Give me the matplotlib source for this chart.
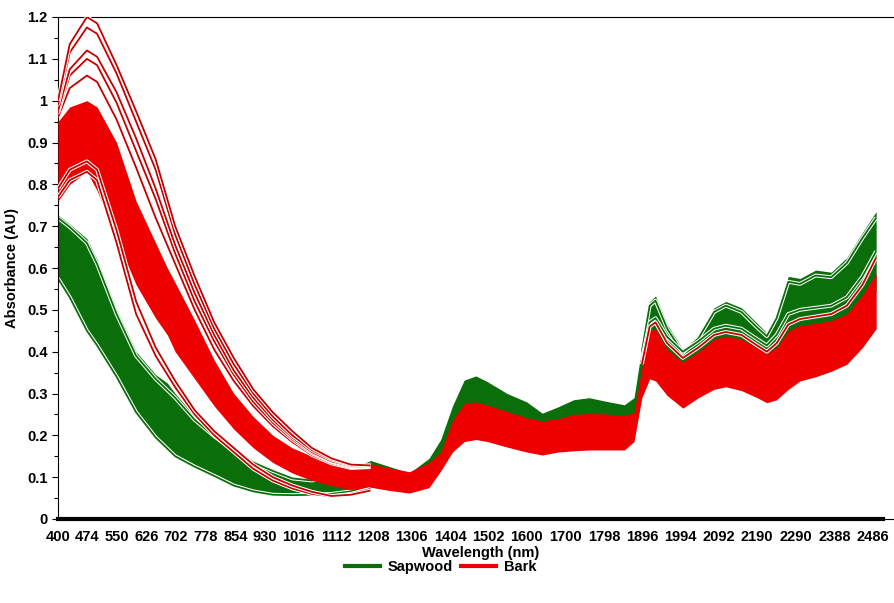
import numpy as np
import matplotlib
matplotlib.use("Agg")
import matplotlib.pyplot as plt
import matplotlib.patheffects as pe
from matplotlib.lines import Line2D

plt.rcParams['font.family'] = ['Liberation Sans', 'DejaVu Sans']
plt.rcParams['font.weight'] = 'bold'

# wavelength grid (nm) for the band envelopes
wl = [400, 430, 474, 500, 550, 600, 650, 680, 700, 750,
      800, 850, 900, 950, 1000, 1050, 1100, 1150, 1200, 1250,
      1300, 1350, 1380, 1410, 1440, 1470, 1500, 1550, 1600, 1640,
      1680, 1720, 1760, 1800, 1850, 1875, 1895, 1915, 1930, 1960,
      2000, 2040, 2080, 2110, 2150, 2190, 2215, 2240, 2270, 2300,
      2340, 2380, 2420, 2460, 2495]

# Sapwood spectra: upper / lower edge of the bundle
sap_hi = [0.727, 0.705, 0.67, 0.62, 0.50, 0.40, 0.345, 0.325, 0.30, 0.245,
          0.205, 0.17, 0.14, 0.12, 0.10, 0.095, 0.105, 0.125, 0.14, 0.125,
          0.11, 0.145, 0.19, 0.27, 0.332, 0.342, 0.328, 0.30, 0.28, 0.253,
          0.268, 0.285, 0.29, 0.282, 0.273, 0.29, 0.41, 0.52, 0.533, 0.465,
          0.405, 0.44, 0.505, 0.52, 0.505, 0.468, 0.445, 0.49, 0.58, 0.575,
          0.595, 0.59, 0.625, 0.685, 0.735]
sap_lo = [0.579, 0.535, 0.455, 0.42, 0.345, 0.26, 0.20, 0.172, 0.155, 0.13,
          0.108, 0.085, 0.07, 0.06, 0.06, 0.062, 0.064, 0.07, 0.085, 0.08,
          0.075, 0.09, 0.12, 0.18, 0.22, 0.225, 0.22, 0.205, 0.19, 0.18,
          0.185, 0.195, 0.2, 0.2, 0.195, 0.21, 0.31, 0.39, 0.395, 0.35,
          0.31, 0.33, 0.365, 0.375, 0.365, 0.34, 0.325, 0.35, 0.40, 0.41,
          0.42, 0.43, 0.455, 0.50, 0.545]

# Bark spectra: upper / lower edge of the bundle
bark_hi = [0.95, 0.985, 1.0, 0.985, 0.90, 0.76, 0.66, 0.60, 0.565, 0.475,
           0.38, 0.30, 0.245, 0.20, 0.17, 0.15, 0.135, 0.127, 0.132, 0.122,
           0.113, 0.135, 0.16, 0.235, 0.275, 0.28, 0.272, 0.257, 0.242, 0.234,
           0.24, 0.25, 0.252, 0.251, 0.247, 0.255, 0.36, 0.45, 0.455, 0.405,
           0.375, 0.40, 0.43, 0.437, 0.43, 0.41, 0.397, 0.41, 0.45, 0.462,
           0.468, 0.474, 0.49, 0.535, 0.587]
bark_lo = [0.76, 0.80, 0.83, 0.785, 0.67, 0.56, 0.48, 0.44, 0.40, 0.335,
           0.27, 0.215, 0.17, 0.135, 0.11, 0.092, 0.08, 0.07, 0.076, 0.068,
           0.062, 0.075, 0.115, 0.16, 0.185, 0.19, 0.185, 0.172, 0.16, 0.153,
           0.16, 0.163, 0.165, 0.165, 0.165, 0.185, 0.29, 0.335, 0.33, 0.295,
           0.265, 0.29, 0.31, 0.316, 0.307, 0.29, 0.278, 0.285, 0.31, 0.33,
           0.34, 0.353, 0.37, 0.41, 0.455]

# single spectra standing apart from the bundles (visible range)
wl_vis = [400, 430, 474, 500, 550, 600, 650, 700, 750, 800,
          850, 900, 950, 1000, 1050, 1100, 1150, 1200]
bark_r1 = [1.0, 1.135, 1.2, 1.185, 1.085, 0.975, 0.86, 0.70, 0.58, 0.47,
           0.385, 0.31, 0.255, 0.21, 0.17, 0.145, 0.13, 0.128]
bark_r2 = [0.99, 1.115, 1.175, 1.16, 1.065, 0.95, 0.835, 0.68, 0.56, 0.455,
           0.37, 0.30, 0.245, 0.20, 0.165, 0.142, 0.128, 0.127]
bark_r3 = [0.975, 1.075, 1.12, 1.105, 1.02, 0.91, 0.79, 0.655, 0.54, 0.44,
           0.355, 0.29, 0.237, 0.195, 0.16, 0.138, 0.126, 0.126]
bark_r4 = [0.97, 1.06, 1.10, 1.085, 0.995, 0.88, 0.765, 0.635, 0.52, 0.425,
           0.345, 0.28, 0.23, 0.19, 0.157, 0.136, 0.124, 0.125]
bark_r5 = [0.96, 1.03, 1.06, 1.045, 0.955, 0.84, 0.72, 0.61, 0.50, 0.405,
           0.33, 0.27, 0.222, 0.184, 0.153, 0.133, 0.122, 0.124]
bark_l1 = [0.79, 0.835, 0.855, 0.835, 0.69, 0.52, 0.41, 0.33, 0.26, 0.21,
           0.17, 0.13, 0.10, 0.08, 0.065, 0.055, 0.058, 0.068]
bark_l2 = [0.77, 0.81, 0.83, 0.81, 0.66, 0.49, 0.39, 0.315, 0.25, 0.20,
           0.16, 0.12, 0.092, 0.073, 0.06, 0.054, 0.06, 0.072]
sap_g1 = [0.575, 0.53, 0.45, 0.415, 0.34, 0.255, 0.195, 0.15, 0.125, 0.103,
          0.08, 0.066, 0.058, 0.057, 0.058, 0.06, 0.066, 0.08]
sap_g2 = [0.72, 0.698, 0.66, 0.61, 0.49, 0.39, 0.335, 0.29, 0.237, 0.198,
          0.163, 0.135, 0.115, 0.097, 0.092, 0.1, 0.12, 0.135]

# single spectra standing apart (NIR)
wl_nir = [1895, 1915, 1930, 1960, 2000, 2040, 2080, 2110, 2150,
          2190, 2215, 2240, 2270, 2300, 2340, 2380, 2420, 2460, 2495]
bark_rn = [0.37, 0.46, 0.47, 0.42, 0.385, 0.41, 0.44, 0.447, 0.44,
           0.415, 0.40, 0.42, 0.465, 0.478, 0.484, 0.49, 0.51, 0.56, 0.625]
sap_gn = [0.38, 0.47, 0.48, 0.435, 0.40, 0.425, 0.455, 0.462, 0.455,
          0.43, 0.415, 0.44, 0.49, 0.50, 0.505, 0.51, 0.53, 0.58, 0.64]
sap_gt = [0.40, 0.51, 0.522, 0.455, 0.397, 0.432, 0.495, 0.51, 0.495,
          0.458, 0.437, 0.48, 0.567, 0.562, 0.582, 0.578, 0.612, 0.672, 0.72]

xticks = [400, 474, 550, 626, 702, 778, 854, 930, 1016, 1112, 1208, 1306,
          1404, 1502, 1600, 1700, 1798, 1896, 1994, 2092, 2190, 2290, 2388, 2486]

green = '#0a6e0a'
red = '#ee0000'
dred = '#c40000'

fig = plt.figure(figsize=(8.94, 6.03), dpi=100)
ax = fig.add_axes([58/894, 84/603, 1 - 58/894 + 0.01, 502/603])

stroke = [pe.Stroke(linewidth=2.8, foreground='white', capstyle='butt'), pe.Normal()]
kw = dict(lw=1.3, solid_capstyle='butt', solid_joinstyle='round', path_effects=stroke)

ax.fill_between(wl, sap_lo, sap_hi, color=green, lw=0, zorder=1)
for c in [sap_g1, sap_g2]:
    ax.plot(wl_vis, c, color=green, zorder=2, **kw)
for c in [sap_gt, sap_gn]:
    ax.plot(wl_nir, c, color=green, zorder=2, **kw)

ax.fill_between(wl, bark_lo, bark_hi, color=red, lw=0, zorder=3)
for c in [bark_r5, bark_r4, bark_r3, bark_r2, bark_r1, bark_l2, bark_l1]:
    ax.plot(wl_vis, c, color=dred, zorder=4, **kw)
ax.plot(wl_nir, bark_rn, color=dred, zorder=4, **kw)

ax.set_xlim(400, 400 + (894 - 58) / 0.3864)
ax.set_ylim(0, 1.2)
ax.set_xticks(xticks)
ax.set_xticklabels([str(t) for t in xticks])
ax.set_yticks(np.arange(0, 1.21, 0.1))
ax.set_yticklabels(['%g' % round(v, 1) for v in np.arange(0, 1.21, 0.1)])
ax.set_yticks(np.arange(0, 1.21, 0.05), minor=True)
ax.tick_params(axis='both', labelsize=10.5, direction='out')
ax.tick_params(axis='x', length=0, pad=8)
ax.tick_params(axis='y', which='major', length=4, width=0.8)
ax.tick_params(axis='y', which='minor', length=3, width=0.8)
for lab in ax.get_xticklabels() + ax.get_yticklabels():
    lab.set_fontweight('bold')

ax.spines['right'].set_visible(False)
ax.spines['top'].set_linewidth(0.8)
ax.spines['left'].set_linewidth(0.8)
ax.spines['bottom'].set_linewidth(3)
ax.spines['bottom'].set_bounds(400, 2512)
ax.axhline(0, color='black', lw=0.8, zorder=0, clip_on=False)

ax.set_xlabel('Wavelength (nm)', fontsize=10.5, fontweight='bold', labelpad=1)
ax.set_ylabel('Absorbance (AU)', fontsize=10.5, fontweight='bold', labelpad=6)

handles = [Line2D([], [], color=green, lw=3), Line2D([], [], color=red, lw=3)]
fig.legend(handles, ['Sapwood', 'Bark'], loc='center', bbox_to_anchor=(0.493, 1 - 567/603),
           ncol=2, frameon=False, handlelength=2.4, handletextpad=0.5, columnspacing=0.6,
           prop={'weight': 'bold', 'size': 10.5})

fig.savefig('out.png', dpi=100)
